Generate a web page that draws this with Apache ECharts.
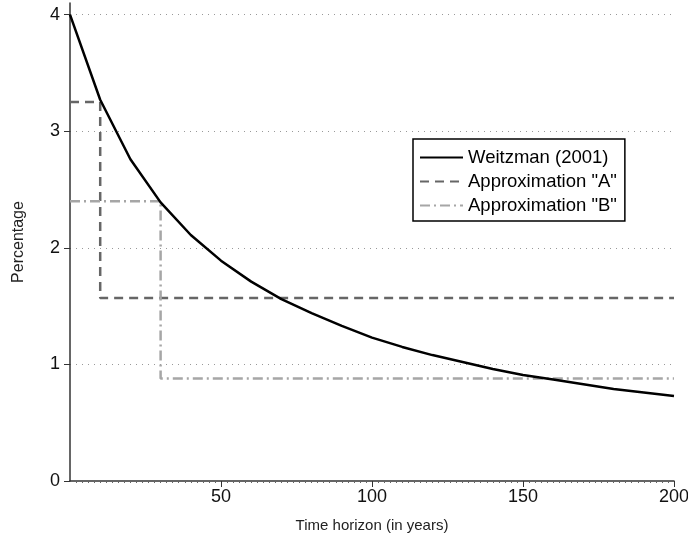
<!DOCTYPE html>
<html>
<head>
<meta charset="utf-8">
<script src="https://cdn.jsdelivr.net/npm/echarts@6/dist/echarts.min.js"></script>
<style>
  html, body { margin: 0; padding: 0; background: #fff; }
  #chart { width: 688px; height: 540px; }
</style>
</head>
<body>
<div id="chart"></div>
<script>
// years and Weitzman rate (every 10 years)
const years = [0, 10, 20, 30, 40, 50, 60, 70, 80, 90, 100, 110, 120, 130, 140, 150, 160, 170, 180, 190, 200]
const weitzman = [4.0, 3.27, 2.76, 2.39, 2.11, 1.89, 1.71, 1.56, 1.44, 1.33, 1.23, 1.15, 1.08, 1.02, 0.96, 0.91, 0.87, 0.83, 0.79, 0.76, 0.73]

// step approximations: [start, switch, end] and the two levels
const approxAYears = [0, 10, 200]
const approxALevels = [3.25, 1.57]
const approxBYears = [0, 30, 200]
const approxBLevels = [2.4, 0.88]

const yTicks = [0, 1, 2, 3, 4]
const xTicks = [50, 100, 150, 200]

function stepPairs(xs, levels) {
  return [
    [xs[0], levels[0]],
    [xs[1], levels[0]],
    [xs[1], levels[1]],
    [xs[2], levels[1]]
  ]
}

const font = 'Liberation Sans, Arial, Helvetica, sans-serif'
const chart = echarts.init(document.getElementById('chart'))

chart.setOption({
  animation: false,
  textStyle: { fontFamily: font },
  grid: { left: 70, right: 14, top: 3, bottom: 59, outerBoundsMode: 'none', containLabel: false },
  legend: {
    orient: 'vertical',
    left: 413,
    top: 139,
    padding: [9, 8, 6, 6],
    itemGap: 5,
    itemWidth: 43,
    itemHeight: 20,
    borderColor: '#000',
    borderWidth: 1.5,
    itemStyle: { opacity: 0 },
    textStyle: { fontSize: 18.5, color: '#000', fontFamily: font, padding: [0, 0, 0, 0] },
    data: ['Weitzman (2001)', 'Approximation "A"', 'Approximation "B"']
  },
  xAxis: {
    type: 'value',
    min: 0,
    max: 200,
    interval: 50,
    name: 'Time horizon (in years)',
    nameLocation: 'middle',
    nameGap: 37,
    nameTextStyle: { fontSize: 15, color: '#222', fontFamily: font },
    axisLine: { show: true, lineStyle: { color: '#333', width: 1.5 } },
    axisTick: { show: true, length: 6, lineStyle: { color: '#333' }, customValues: xTicks },
    minorTick: { show: true, splitNumber: 25, length: 2, lineStyle: { color: '#666' } },
    axisLabel: { fontSize: 18, color: '#111', margin: 7, customValues: xTicks },
    splitLine: { show: false }
  },
  yAxis: {
    type: 'value',
    min: 0,
    max: 4.1,
    interval: 1,
    name: 'Percentage',
    nameLocation: 'middle',
    nameGap: 43,
    nameRotate: 90,
    nameTextStyle: { fontSize: 16, color: '#222', fontFamily: font },
    axisLine: { show: true, lineStyle: { color: '#333', width: 1.5 } },
    axisTick: { show: true, length: 6, lineStyle: { color: '#333' }, customValues: yTicks },
    axisLabel: { fontSize: 18, color: '#111', margin: 10, customValues: yTicks },
    splitLine: {
      show: true,
      lineStyle: { color: ['#fff', '#999', '#999', '#999', '#999', '#fff'], type: [1, 5], width: 1 }
    }
  },
  series: [
    {
      name: 'Approximation "A"',
      type: 'line',
      showSymbol: false,
      symbol: 'none',
      data: stepPairs(approxAYears, approxALevels),
      lineStyle: { color: '#666', width: 2.5, type: [9, 6] },
      itemStyle: { color: '#666' },
      z: 2
    },
    {
      name: 'Approximation "B"',
      type: 'line',
      showSymbol: false,
      symbol: 'none',
      data: stepPairs(approxBYears, approxBLevels),
      lineStyle: { color: '#a6a6a6', width: 2.5, type: [10, 4, 2, 4] },
      itemStyle: { color: '#a6a6a6' },
      z: 2
    },
    {
      name: 'Weitzman (2001)',
      type: 'line',
      showSymbol: false,
      symbol: 'none',
      data: years.map((y, i) => [y, weitzman[i]]),
      lineStyle: { color: '#000', width: 2.5 },
      itemStyle: { color: '#000' },
      z: 3
    }
  ]
})
</script>
</body>
</html>
